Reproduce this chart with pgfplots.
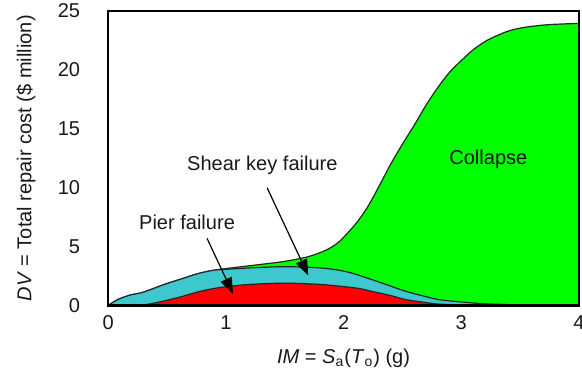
\documentclass[border=0pt]{standalone}
\usepackage{fontspec}
\setmainfont{Liberation Sans}
\usepackage{pgfplots}
\pgfplotsset{compat=1.18}
\usetikzlibrary{arrows.meta}
\definecolor{cgreen}{RGB}{0,255,0}
\definecolor{cteal}{RGB}{60,200,205}
\definecolor{cred}{RGB}{255,0,0}
\definecolor{ctext}{RGB}{25,25,25}
\begin{document}
\begin{tikzpicture}
\begin{axis}[
  width=235pt, height=147pt, scale only axis,
  xmin=0, xmax=4, ymin=0, ymax=25,
  xtick={0,1,2,3,4}, ytick={0,5,10,15,20,25},
  major tick length=0pt,
  axis line style={line width=1.1pt},
  axis on top,
  /pgf/number format/assume math mode=true,
  ticklabel style={font=\fontsize{10}{12}\selectfont, text=ctext},
  yticklabel style={anchor=east, xshift=-10.5pt},
  xticklabel style={anchor=north, yshift=-1.7pt},
  xlabel={\textit{IM} = \textit{S}\textsubscript{a}(\textit{T}\textsubscript{o}) (g)},
  ylabel={\textit{DV} = Total repair cost (\$ million)},
  every axis x label/.style={at={(axis description cs:0.5,-0.18)}, anchor=center, font=\fontsize{10}{12}\selectfont, text=ctext},
  every axis y label/.style={at={(axis description cs:-0.1745,0.5)}, rotate=90, anchor=center, font=\fontsize{10}{12}\selectfont, text=ctext},
  clip=true,
]
% Total (collapse + shear key + pier)
\addplot [fill=cgreen, draw=black!85, line width=0.6pt, smooth, tension=0.5] coordinates {
 (0,0) (0.08,0.5) (0.19,0.9) (0.27,1.05) (0.36,1.35) (0.48,1.8) (0.62,2.25)
 (0.76,2.7) (0.9,3.0) (1.05,3.2) (1.22,3.4) (1.5,3.75) (1.7,4.15) (1.85,4.7)
 (1.96,5.4) (2.1,6.9) (2.2,8.3) (2.3,10.1) (2.4,12.0) (2.5,13.7) (2.6,15.3)
 (2.7,17.0) (2.8,18.5) (2.9,19.8) (3.0,20.8) (3.1,21.7) (3.2,22.4) (3.3,22.9)
 (3.4,23.3) (3.5,23.55) (3.6,23.7) (3.75,23.85) (4.0,23.95)
} \closedcycle;
% Shear key + pier
\addplot [fill=cteal, draw=black!85, line width=0.6pt, smooth, tension=0.5] coordinates {
 (0,0) (0.08,0.5) (0.19,0.9) (0.27,1.05) (0.36,1.35) (0.48,1.8) (0.62,2.25)
 (0.76,2.7) (0.9,3.0) (1.05,3.1) (1.22,3.2) (1.5,3.3) (1.79,3.2) (1.96,3.0)
 (2.07,2.75) (2.24,2.2) (2.4,1.65) (2.53,1.2) (2.7,0.75) (2.81,0.5) (3.0,0.3)
 (3.2,0.15) (3.5,0.05) (3.8,0.0) (4.0,0.0)
} \closedcycle;
% Pier
\addplot [fill=cred, draw=black!85, line width=0.6pt, smooth, tension=0.5] coordinates {
 (0,0) (0.25,0.0) (0.36,0.15) (0.48,0.4) (0.62,0.75) (0.76,1.15) (0.9,1.45)
 (1.05,1.65) (1.22,1.8) (1.5,1.9) (1.79,1.8) (1.96,1.65) (2.13,1.45)
 (2.24,1.2) (2.4,0.85) (2.53,0.5) (2.7,0.25) (2.81,0.12) (3.0,0.05)
 (3.3,0.02) (3.6,0.0) (4.0,0.0)
} \closedcycle;
\node[font=\fontsize{10}{12}\selectfont, text=ctext] at (axis cs:0.67,7.06) {Pier failure};
\node[font=\fontsize{10}{12}\selectfont, text=ctext] at (axis cs:1.31,11.9) {Shear key failure};
\node[font=\fontsize{10}{12}\selectfont, text=black!80!green!40!black] at (axis cs:3.23,12.4) {Collapse};
\draw[line width=0.6pt, -{Triangle[length=8pt,width=6pt]}] (axis cs:0.84,5.7) -- (axis cs:1.06,1.0);
\draw[line width=0.6pt, -{Triangle[length=8pt,width=6pt]}] (axis cs:1.35,10.0) -- (axis cs:1.70,2.55);
\end{axis}
\pgfresetboundingbox
\path ([xshift=-54pt,yshift=-31.5pt]current axis.south west) rectangle ([xshift=1.5pt,yshift=5.5pt]current axis.north east);
\end{tikzpicture}
\end{document}
